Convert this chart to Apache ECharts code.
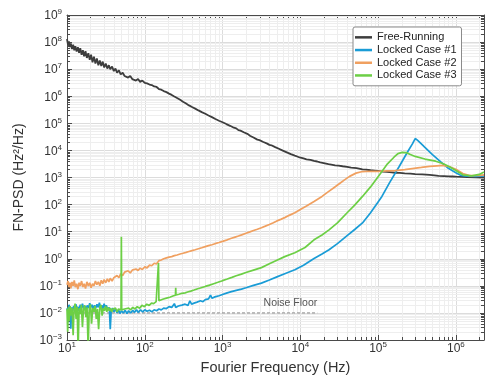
<!DOCTYPE html>
<html>
<head>
<meta charset="utf-8">
<script src="https://cdn.jsdelivr.net/npm/echarts@6/dist/echarts.min.js"></script>
<style>
html,body{margin:0;padding:0;background:#fff;}
#chart{width:488px;height:376px;}
</style>
</head>
<body>
<div id="chart"></div>
<script>
// ---------- data (frequency in Hz, PSD in Hz^2/Hz) ----------
const seriesNames = ['Free-Running', 'Locked Case #1', 'Locked Case #2', 'Locked Case #3'];
const seriesColors = ['#3d3d3d', '#1a9cd6', '#f0a060', '#6ccf45'];
const xMin = 10, xMax = 2.3e6, yMin = 1e-3, yMax = 1e9;

const freeRunning = [[10,1.3e8],[10.3,8e7],[10.6,1.05e8],[10.9,6.5e7],[11.2,9e7],[11.6,5.5e7],[12,8e7],[12.4,5e7],[12.8,7e7],[13.3,4.5e7],[13.8,6.5e7],[14.3,4e7],[14.8,6e7],[15.4,3.4e7],[16,5e7],[16.6,3e7],[17.3,4.6e7],[18,2.6e7],[18.8,3.9e7],[19.6,2.2e7],[20.4,3.4e7],[21.3,1.8e7],[22.2,2.9e7],[23.2,1.6e7],[24.2,2.5e7],[25.3,1.4e7],[26.4,2.1e7],[27.6,1.3e7],[28.8,1.9e7],[30.1,1.15e7],[31.5,1.6e7],[33,1.05e7],[34.5,1.4e7],[36,1e7],[38,1.25e7],[40,8.5e6],[42,1.05e7],[44,7.5e6],[46.5,9e6],[49,6.4e6],[52,7.4e6],[55,5.6e6],[58,6.4e6],[61,4.9e6],[65,5.6e6],[69,4.3e6],[73,4.9e6],[77,3.8e6],[82,4.3e6],[87,3.4e6],[93,3.8e6],[100,3.1e6],[104,3.5e6],[107,3.0e6],[111,3.2e6],[115,2.7e6],[119,3.0e6],[123,2.6e6],[127,2.8e6],[132,2.3e6],[137,2.5e6],[142,2.2e6],[147,2.35e6],[152,1.85e6],[157,2.0e6],[163,1.75e6],[169,1.85e6],[175,1.55e6],[182,1.6e6],[190,1.42e6],[197,1.5e6],[205,1.25e6],[213,1.3e6],[222,1.12e6],[231,1.15e6],[240,9.8e5],[250,1.0e6],[260,8.6e5],[272,8.6e5],[285,7.4e5],[297,7.5e5],[310,6.3e5],[325,6.2e5],[340,5.4e5],[355,5.4e5],[370,4.6e5],[387,4.7e5],[405,4.0e5],[425,4.0e5],[445,3.5e5],[467,3.5e5],[490,3.0e5],[515,3.05e5],[540,2.6e5],[570,2.6e5],[600,2.25e5],[630,2.25e5],[660,1.95e5],[695,1.95e5],[730,1.7e5],[770,1.66e5],[810,1.45e5],[855,1.42e5],[900,1.25e5],[950,1.22e5],[1000,1.1e5],[1060,1.05e5],[1120,9.4e4],[1180,9.2e4],[1250,8.1e4],[1320,7.9e4],[1400,6.9e4],[1500,6.5e4],[1600,5.6e4],[1700,5.4e4],[1800,4.8e4],[1900,4.6e4],[2000,4.1e4],[2120,4.0e4],[2250,3.5e4],[2370,3.4e4],[2500,3e4],[2650,2.85e4],[2800,2.5e4],[2980,2.4e4],[3160,2.1e4],[3350,2.05e4],[3550,1.85e4],[3750,1.78e4],[4000,1.6e4],[4250,1.55e4],[4500,1.4e4],[4750,1.32e4],[5000,1.2e4],[5300,1.15e4],[5600,1.05e4],[5950,9.8e3],[6300,8.8e3],[6700,8.5e3],[7100,7.6e3],[7550,7.3e3],[8000,6.6e3],[8500,6.4e3],[9000,6e3],[9500,5.7e3],[1e4,5.4e3],[1.1e4,5.1e3],[1.2e4,4.7e3],[1.35e4,4.5e3],[1.5e4,4.1e3],[1.65e4,3.9e3],[1.8e4,3.6e3],[2e4,3.4e3],[2.3e4,3.1e3],[2.5e4,3.0e3],[2.8e4,2.8e3],[3.1e4,2.75e3],[3.5e4,2.6e3],[4e4,2.45e3],[4.5e4,2.3e3],[5.3e4,2.2e3],[6.3e4,2e3],[7e4,1.95e3],[8e4,1.85e3],[9e4,1.8e3],[1e5,1.75e3],[1.15e5,1.66e3],[1.3e5,1.62e3],[1.5e5,1.55e3],[1.66e5,1.5e3],[1.9e5,1.47e3],[2.2e5,1.42e3],[2.6e5,1.38e3],[3e5,1.33e3],[3.7e5,1.3e3],[4.6e5,1.25e3],[5.3e5,1.2e3],[6e5,1.15e3],[7e5,1.13e3],[8e5,1.1e3],[9e5,1.09e3],[1e6,1.07e3],[1.2e6,1.05e3],[1.4e6,1.03e3],[1.8e6,1.02e3],[2.3e6,1e3]];

const lockedCase1 = [[10,1.5e-2],[10.3,1.1e-2],[10.6,2e-2],[10.9,1.3e-2],[11.2,2.6e-3],[11.5,1.6e-2],[11.8,1.2e-2],[12.2,1.8e-2],[12.6,1.4e-2],[13,2.1e-2],[13.4,1.3e-2],[13.8,1.7e-2],[14.3,1.2e-2],[14.8,2e-2],[15.3,1.5e-2],[15.8,2.2e-2],[16.4,1.4e-2],[17,1.8e-2],[17.6,1.3e-2],[18.2,1.9e-2],[18.9,1.5e-2],[19.6,2.3e-2],[20.3,1.6e-2],[21,2e-2],[21.8,1.4e-2],[22.6,1.9e-2],[23.4,1.5e-2],[24.3,2.1e-2],[25.2,1.6e-2],[26.1,2.4e-2],[27,1.5e-2],[28,1.9e-2],[29,1.4e-2],[30,2.2e-2],[31,1.6e-2],[32,1.9e-2],[33.5,1.3e-2],[35,1.6e-2],[36,2.5e-3],[37,1.2e-2],[38.5,1.5e-2],[40,1.1e-2],[42,1.4e-2],[44,1e-2],[46,1.3e-2],[48,9.5e-3],[50,1.2e-2],[53,1e-2],[56,1.25e-2],[59,9.5e-3],[62,1.2e-2],[66,1e-2],[70,1.25e-2],[74,1.05e-2],[78,1.3e-2],[83,1.05e-2],[88,1.3e-2],[94,1.1e-2],[100,1.3e-2],[107,1.15e-2],[115,1.25e-2],[123,1.1e-2],[132,1.3e-2],[142,1.2e-2],[152,1.4e-2],[163,1.3e-2],[175,1.5e-2],[190,1.45e-2],[205,1.7e-2],[222,1.6e-2],[240,2.2e-2],[250,1.6e-2],[270,1.8e-2],[300,1.95e-2],[330,2.1e-2],[360,1.9e-2],[380,2.8e-2],[400,2.1e-2],[430,2.3e-2],[470,2.5e-2],[520,2.8e-2],[560,2.6e-2],[600,3.1e-2],[660,3.3e-2],[700,4.5e-2],[730,3.5e-2],[800,3.9e-2],[900,4.3e-2],[1000,4.8e-2],[1150,5.5e-2],[1300,6.1e-2],[1500,6.8e-2],[1750,7.6e-2],[2000,8.5e-2],[2500,0.104],[3160,0.126],[4000,0.165],[5000,0.214],[6300,0.28],[8500,0.39],[1.1e4,0.58],[1.5e4,1.02],[1.9e4,1.5],[2.34e4,2.14],[3e4,3.6],[4e4,7.1],[5e4,12],[6.3e4,21],[8e4,50],[1e5,125],[1.12e5,200],[1.4e5,630],[1.86e5,2500],[2.4e5,8900],[2.75e5,1.7e4],[3e5,2.75e4],[3.2e5,2.4e4],[3.6e5,1.75e4],[4e5,1.3e4],[5e5,7e3],[6.5e5,3.6e3],[8e5,2.2e3],[1e6,1.5e3],[1.15e6,1.2e3],[1.4e6,1.12e3],[1.8e6,1.1e3],[2.3e6,1.15e3]];

const lockedCase2 = [[10,0.11],[10.3,0.15],[10.6,0.09],[10.9,0.13],[11.2,0.08],[11.6,0.14],[12,0.1],[12.4,0.16],[12.8,0.09],[13.3,0.12],[13.8,0.075],[14.3,0.13],[14.8,0.1],[15.4,0.15],[16,0.09],[16.6,0.12],[17.3,0.08],[18,0.14],[18.8,0.1],[19.6,0.13],[20.4,0.085],[21.3,0.12],[22.2,0.1],[23.2,0.15],[24.2,0.11],[25.3,0.14],[26.4,0.1],[27.6,0.16],[28.8,0.12],[30,0.17],[31.5,0.13],[33,0.18],[34.5,0.14],[36,0.19],[38,0.15],[40,0.2],[42,0.17],[44,0.24],[46.5,0.2],[49,0.28],[52,0.24],[55,0.32],[58,0.27],[61,0.36],[65,0.3],[69,0.38],[73,0.33],[77,0.42],[82,0.37],[87,0.45],[93,0.4],[100,0.5],[107,0.46],[115,0.58],[123,0.55],[132,0.68],[142,0.65],[152,0.85],[158,0.95],[163,0.9],[175,1.0],[190,1.08],[205,1.15],[222,1.2],[240,1.3],[260,1.38],[285,1.5],[310,1.6],[340,1.72],[370,1.85],[405,2.0],[445,2.15],[490,2.35],[540,2.55],[600,2.8],[660,3.05],[730,3.3],[800,3.6],[900,4.0],[1000,4.4],[1150,5.0],[1300,5.7],[1450,6.3],[1600,6.9],[1800,7.8],[2000,8.7],[2250,9.8],[2500,11],[2800,12.3],[3160,14],[3550,16],[4000,18.5],[4500,21.5],[5000,25],[5600,28.5],[6300,33],[7200,40],[8500,50],[1e4,66],[1.2e4,88],[1.5e4,130],[1.9e4,200],[2.3e4,300],[2.7e4,420],[3.2e4,600],[3.7e4,820],[4.3e4,1100],[5.2e4,1450],[6.3e4,1660],[8e4,1700],[1e5,1680],[1.3e5,1750],[1.66e5,1800],[2.2e5,1950],[2.75e5,2140],[3.6e5,2350],[4.6e5,2570],[5.7e5,2700],[6.8e5,2800],[8.3e5,2500],[1e6,2000],[1.23e6,1400],[1.5e6,1170],[2e6,1200],[2.3e6,1260]];

const lockedCase3 = [[10,1.4e-2],[10.2,2e-3],[10.4,1.6e-2],[10.7,5e-3],[11,1.8e-2],[11.3,8e-3],[11.6,1.5e-2],[12,1.5e-3],[12.3,1.3e-2],[12.7,2.2e-2],[13.1,6e-3],[13.5,1.7e-2],[13.9,4e-4],[14.3,1.5e-2],[14.8,9e-3],[15.3,2e-2],[15.8,3e-3],[16.3,1.4e-2],[16.9,1.9e-2],[17.5,7e-3],[18.1,1.6e-2],[18.7,5e-4],[19.3,1.3e-2],[20,2.1e-2],[20.7,4e-3],[21.4,1.5e-2],[22.2,1.1e-2],[23,1.8e-2],[23.8,6e-3],[24.6,1.4e-2],[25.5,2.5e-3],[26.4,1.6e-2],[27.3,2e-2],[28.3,8e-3],[29.3,1.5e-2],[30.3,1.2e-2],[31.4,1.8e-2],[32.5,1.1e-2],[33.7,1.6e-2],[35,1.2e-2],[36.3,1.5e-2],[37.6,1.1e-2],[39,1.4e-2],[40.5,1.2e-2],[42,1.5e-2],[44,1.1e-2],[46,1.4e-2],[48,1.2e-2],[49.5,1.3e-2],[50,6.5],[50.5,1.3e-2],[52,1.1e-2],[55,1.4e-2],[58,1.2e-2],[62,1.5e-2],[66,1.3e-2],[70,1.6e-2],[75,1.4e-2],[80,1.7e-2],[86,1.5e-2],[92,1.9e-2],[99,1.7e-2],[106,2.1e-2],[114,1.9e-2],[122,2.3e-2],[130,2.2e-2],[140,2.6e-2],[148,2.5e-2],[150,0.7],[152,2.8e-2],[160,3e-2],[170,3.2e-2],[180,3.3e-2],[195,3.6e-2],[210,3.8e-2],[230,4.2e-2],[248,4.5e-2],[250,8.5e-2],[252,4.6e-2],[275,4.9e-2],[300,5.3e-2],[330,5.5e-2],[355,5.9e-2],[390,6.4e-2],[430,7e-2],[480,7.8e-2],[530,8.5e-2],[600,9.5e-2],[680,0.106],[770,0.12],[870,0.135],[1000,0.155],[1150,0.178],[1320,0.205],[1500,0.235],[1750,0.27],[2000,0.31],[2500,0.38],[3160,0.47],[4000,0.65],[5000,0.88],[6300,1.2],[8500,1.66],[1.15e4,2.6],[1.5e4,5],[1.9e4,7.5],[2.34e4,11.7],[3e4,21],[4e4,50],[5e4,95],[6.3e4,200],[8e4,450],[1e5,1070],[1.12e5,1660],[1.32e5,3200],[1.6e5,5600],[1.8e5,7600],[2.04e5,8500],[2.3e5,8300],[2.6e5,7100],[3e5,6000],[4e5,4800],[5.5e5,4000],[6.9e5,3200],[8.3e5,2500],[1e6,1800],[1.23e6,1260],[1.6e6,1150],[2e6,1300],[2.3e6,1600]];

const noiseFloor = [[10,1e-2],[1.65e4,1e-2]];
const noiseFloorLabel = 'Noise Floor';
const xAxisTitle = 'Fourier Frequency (Hz)';
const yAxisTitle = 'FN-PSD (Hz\u00B2/Hz)';

// ---------- axis helpers ----------
const FONT = '"Liberation Sans", Arial, Helvetica, sans-serif';
function powLabel(v) {
  const l = Math.log10(v);
  const e = Math.round(l);
  if (Math.abs(l - e) > 1e-6) return '';
  return '{b|10}{s|' + (e < 0 ? '\u2212' + (-e) : e) + '}';
}
const labelRich = {
  b: {fontSize: 12, lineHeight: 14, verticalAlign: 'bottom', color: '#333', fontFamily: FONT},
  s: {fontSize: 8, lineHeight: 6, verticalAlign: 'top', color: '#333', fontFamily: FONT}
};
function minorList(lo, hi) {
  const out = [];
  for (let n = -4; n <= 9; n++) {
    for (let k = 2; k <= 9; k++) {
      const v = k * Math.pow(10, n);
      if (v > lo && v < hi) out.push(v);
    }
  }
  return out;
}
const minorX = minorList(xMin, xMax).map(v => [v, 1]);
const minorY = minorList(yMin, yMax).map(v => [100, v]);

const AXIS_COLOR = '#4a4a4a';
const MAJOR_GRID = '#dcdcdc';
const MINOR_GRID = '#eeeeee';

function baseAxis(extra) {
  return Object.assign({
    type: 'log', logBase: 10, interval: 1,
    axisLine: {show: true, lineStyle: {color: AXIS_COLOR, width: 1}},
    axisTick: {show: true, inside: true, length: 5, lineStyle: {color: AXIS_COLOR}},
    minorTick: {show: false},
    splitLine: {show: false}
  }, extra);
}

const chart = echarts.init(document.getElementById('chart'), null, {renderer: 'canvas'});

const lineSeries = [freeRunning, lockedCase1, lockedCase2, lockedCase3].map((d, i) => ({
  name: seriesNames[i],
  type: 'line',
  data: d,
  showSymbol: false,
  symbol: 'none',
  clip: true,
  z: 3 + i,
  lineStyle: {color: seriesColors[i], width: i === 0 ? 1.8 : 1.7},
  itemStyle: {color: seriesColors[i]},
  emphasis: {disabled: true}
}));

const option = {
  animation: false,
  backgroundColor: '#ffffff',
  textStyle: {fontFamily: FONT},
  grid: {left: 67, right: 4, top: 15, bottom: 36, containLabel: false, outerBoundsMode: 'none'},
  legend: {
    data: seriesNames,
    orient: 'vertical',
    left: 353, top: 27,
    padding: [4, 5, 4, 2],
    itemGap: 0,
    itemWidth: 17, itemHeight: 2.5,
    icon: 'rect',
    backgroundColor: '#ffffff',
    borderColor: '#8a8a8a', borderWidth: 1, borderRadius: 2,
    textStyle: {fontSize: 11, color: '#222', lineHeight: 12.7, fontFamily: FONT},
    selectedMode: false
  },
  xAxis: [
    baseAxis({
      position: 'bottom', min: xMin, max: xMax,
      name: xAxisTitle, nameLocation: 'middle', nameGap: 20,
      nameTextStyle: {fontSize: 14.5, color: '#333', fontFamily: FONT},
      axisLabel: {show: true, margin: 1, formatter: powLabel, rich: labelRich, showMaxLabel: false},
      splitLine: {show: true, lineStyle: {color: MAJOR_GRID, width: 1}}
    }),
    baseAxis({position: 'top', min: xMin, max: xMax, axisLabel: {show: false}})
  ],
  yAxis: [
    baseAxis({
      position: 'left', min: yMin, max: yMax,
      name: yAxisTitle, nameLocation: 'middle', nameGap: 41, nameRotate: 90,
      nameTextStyle: {fontSize: 14, color: '#333', fontFamily: FONT},
      axisLabel: {show: true, margin: 5, formatter: powLabel, rich: labelRich},
      splitLine: {show: true, lineStyle: {color: MAJOR_GRID, width: 1}}
    }),
    baseAxis({position: 'right', min: yMin, max: yMax, axisLabel: {show: false}})
  ],
  series: [
    {
      type: 'custom', name: 'minorX', silent: true, z: 1,
      xAxisIndex: 0, yAxisIndex: 0,
      data: minorX, encode: {x: 0, y: 1},
      renderItem: function (params, api) {
        const p = api.coord([api.value(0), api.value(1)]);
        const cs = params.coordSys;
        const x = Math.round(p[0]) + 0.5;
        const top = cs.y, bot = cs.y + cs.height;
        return {type: 'group', children: [
          {type: 'line', shape: {x1: x, y1: top, x2: x, y2: bot}, style: {stroke: MINOR_GRID, lineWidth: 1}},
          {type: 'line', shape: {x1: x, y1: bot, x2: x, y2: bot - 3}, style: {stroke: AXIS_COLOR, lineWidth: 1}},
          {type: 'line', shape: {x1: x, y1: top, x2: x, y2: top + 3}, style: {stroke: AXIS_COLOR, lineWidth: 1}}
        ]};
      }
    },
    {
      type: 'custom', name: 'minorY', silent: true, z: 1,
      xAxisIndex: 0, yAxisIndex: 0,
      data: minorY, encode: {x: 0, y: 1},
      renderItem: function (params, api) {
        const p = api.coord([api.value(0), api.value(1)]);
        const cs = params.coordSys;
        const y = Math.round(p[1]) + 0.5;
        const l = cs.x, r = cs.x + cs.width;
        return {type: 'group', children: [
          {type: 'line', shape: {x1: l, y1: y, x2: r, y2: y}, style: {stroke: MINOR_GRID, lineWidth: 1}},
          {type: 'line', shape: {x1: l, y1: y, x2: l + 3, y2: y}, style: {stroke: AXIS_COLOR, lineWidth: 1}},
          {type: 'line', shape: {x1: r, y1: y, x2: r - 3, y2: y}, style: {stroke: AXIS_COLOR, lineWidth: 1}}
        ]};
      }
    },
    {
      type: 'line', name: 'noiseFloor', data: noiseFloor, z: 2,
      showSymbol: false, symbol: 'none', silent: true,
      lineStyle: {color: '#8c8c8c', width: 1, type: [3, 2]},
      markPoint: {
        silent: true,
        symbol: 'circle', symbolSize: 0,
        itemStyle: {color: 'rgba(0,0,0,0)'},
        label: {show: true, position: 'left', distance: 0, offset: [0, -10], formatter: noiseFloorLabel,
          color: '#555', fontSize: 10.5, fontFamily: FONT},
        data: [{coord: noiseFloor[1]}]
      }
    }
  ].concat(lineSeries)
};
chart.setOption(option);
</script>
</body>
</html>
